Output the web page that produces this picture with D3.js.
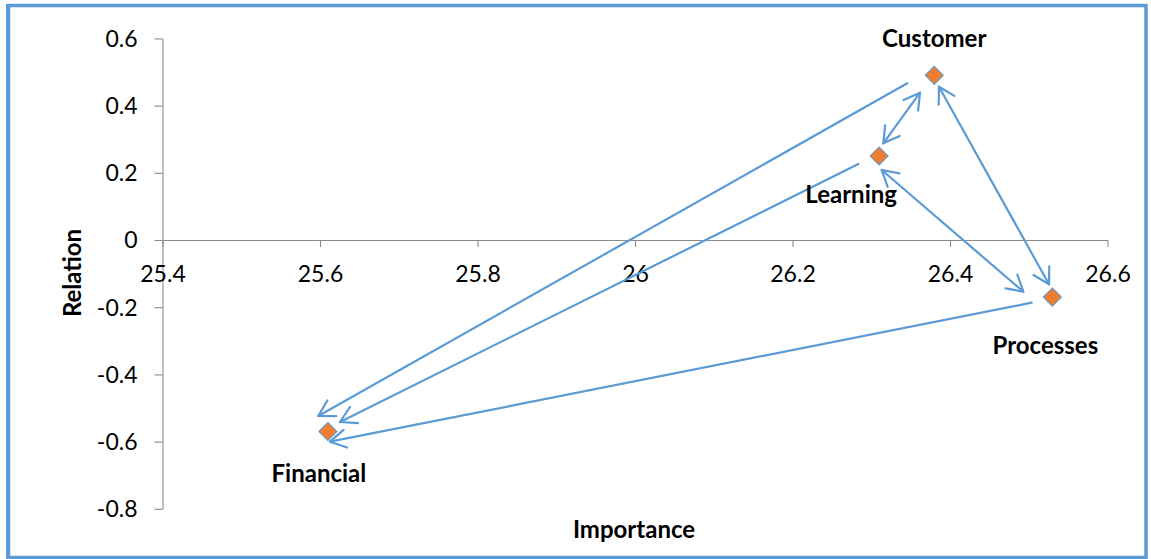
<!DOCTYPE html>
<html>
<head>
<meta charset="utf-8">
<script src="https://cdn.jsdelivr.net/npm/d3@7"></script>
<style>
  html, body { margin: 0; padding: 0; background: #fff; }
  svg { display: block; }
  text { font-family: Lato, "Open Sans", sans-serif; fill: #000; }
</style>
</head>
<body>
<svg id="chart" width="1151" height="559"></svg>
<script>
// Balanced-scorecard perspectives: importance vs. relation
const perspectives = ["Customer", "Learning", "Processes", "Financial"];
const importance   = [26.38, 26.31, 26.53, 25.61];
const relation     = [0.49, 0.25, -0.17, -0.57];

const xTicks = [25.4, 25.6, 25.8, 26.0, 26.2, 26.4, 26.6];
const xTickLabels = ["25.4", "25.6", "25.8", "26", "26.2", "26.4", "26.6"];
const yTicks = [0.6, 0.4, 0.2, 0, -0.2, -0.4, -0.6, -0.8];
const yTickLabels = ["0.6", "0.4", "0.2", "0", "-0.2", "-0.4", "-0.6", "-0.8"];

// Influence arrows between perspectives (endpoints in axis units)
const arrowFrom   = ["Customer", "Learning", "Processes", "Learning", "Learning", "Customer"];
const arrowTo     = ["Financial", "Financial", "Financial", "Customer", "Processes", "Processes"];
const arrowX1     = [26.3458, 26.2836, 26.5037, 26.3153, 26.3133, 26.3860];
const arrowY1     = [0.4664, 0.2262, -0.1866, 0.2878, 0.2083, 0.4563];
const arrowX2     = [25.5978, 25.6254, 25.6127, 26.3619, 26.4931, 26.5257];
const arrowY2     = [-0.5238, -0.5417, -0.6003, 0.4384, -0.1539, -0.1318];
const arrowBoth   = [false, false, false, true, true, true];

const svg = d3.select("#chart");
const W = 1151, H = 559;
const blue = "#5B9BD5", orange = "#ED7D31", axisGray = "#8a8a8a";

const x = d3.scaleLinear().domain([25.4, 26.6]).range([162.5, 1107.5]);
const y = d3.scaleLinear().domain([-0.8, 0.6]).range([508.8, 38.4]);

// outer frame
svg.append("rect")
  .attr("x", 8.5).attr("y", 5.5).attr("width", 1137.5).attr("height", 552)
  .attr("fill", "none").attr("stroke", blue).attr("stroke-width", 3.5);
svg.append("line")
  .attr("x1", 7).attr("x2", 7).attr("y1", 4).attr("y2", 559)
  .attr("stroke", blue).attr("stroke-width", 2);

// y axis on the left edge of the plot
const yAxis = svg.append("g")
  .attr("transform", `translate(${x(25.4)},0)`)
  .call(d3.axisLeft(y).tickValues(yTicks).tickSize(8).tickSizeOuter(0).tickPadding(17)
    .tickFormat((d, i) => yTickLabels[i]));
yAxis.selectAll("text").style("font-size", "23px").attr("dy", "0.34em");

// x axis crossing at relation = 0
const xAxis = svg.append("g")
  .attr("transform", `translate(0,${y(0)})`)
  .call(d3.axisBottom(x).tickValues(xTicks).tickSize(7).tickSizeOuter(0).tickPadding(19)
    .tickFormat((d, i) => xTickLabels[i]));
xAxis.selectAll("text").style("font-size", "23px");

[yAxis, xAxis].forEach(g => {
  g.select(".domain").attr("stroke", axisGray).attr("stroke-width", 1.1);
  g.selectAll(".tick line").attr("stroke", axisGray).attr("stroke-width", 1.1);
  g.selectAll("text").attr("fill", "#000").style("font-family", "Lato, 'Open Sans', sans-serif");
});

// axis titles
svg.append("text")
  .attr("x", 634).attr("y", 538)
  .attr("text-anchor", "middle")
  .style("font-size", "24px").style("font-weight", "bold")
  .text("Importance");
svg.append("text")
  .attr("transform", "translate(81,273) rotate(-90)")
  .attr("text-anchor", "middle")
  .style("font-size", "24px").style("font-weight", "bold")
  .text("Relation");

// arrows
const arrowLayer = svg.append("g")
  .attr("stroke", blue).attr("stroke-width", 2.2).attr("fill", "none")
  .attr("stroke-linecap", "round").attr("stroke-linejoin", "round");

function head(tx, ty, fx, fy) {
  const ang = Math.atan2(fy - ty, fx - tx);
  const len = 18, spread = Math.PI / 6;
  const a = [tx + len * Math.cos(ang - spread), ty + len * Math.sin(ang - spread)];
  const b = [tx + len * Math.cos(ang + spread), ty + len * Math.sin(ang + spread)];
  return `M${a[0]},${a[1]}L${tx},${ty}L${b[0]},${b[1]}`;
}

arrowFrom.forEach((from, i) => {
  const x1 = x(arrowX1[i]), y1 = y(arrowY1[i]);
  const x2 = x(arrowX2[i]), y2 = y(arrowY2[i]);
  const g = arrowLayer.append("g").attr("class", `arrow ${from}-${arrowTo[i]}`);
  g.append("path").attr("d", `M${x1},${y1}L${x2},${y2}`);
  g.append("path").attr("d", head(x2, y2, x1, y1));
  if (arrowBoth[i]) g.append("path").attr("d", head(x1, y1, x2, y2));
});

// perspective markers (diamonds)
const diamond = d3.symbol().type(d3.symbolSquare).size(165);
svg.append("g").selectAll("path")
  .data(perspectives)
  .join("path")
  .attr("d", diamond)
  .attr("transform", (d, i) => `translate(${x(importance[i])},${y(relation[i])}) rotate(45)`)
  .attr("fill", orange)
  .attr("stroke", blue)
  .attr("stroke-width", 1);

// point labels
const labelDx = [0, -28, -7, -9];
const labelDy = [-28, 47, 57, 50];
svg.append("g").selectAll("text")
  .data(perspectives)
  .join("text")
  .attr("x", (d, i) => x(importance[i]) + labelDx[i])
  .attr("y", (d, i) => y(relation[i]) + labelDy[i])
  .attr("text-anchor", "middle")
  .style("font-size", "24px").style("font-weight", "bold")
  .text(d => d);
</script>
</body>
</html>
